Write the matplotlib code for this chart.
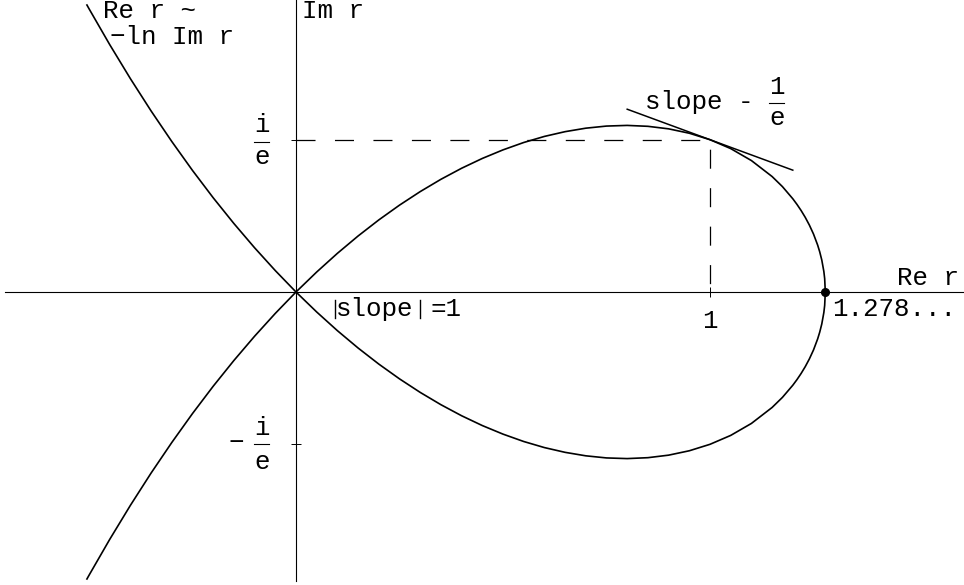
import matplotlib
matplotlib.use("Agg")
import matplotlib.pyplot as plt
from matplotlib.lines import Line2D

plt.rcParams['font.family'] = ['Liberation Mono', 'DejaVu Sans Mono']
plt.rcParams['lines.scale_dashes'] = False

# upper half of the curve (lower half is its mirror image)
curve_x = [-0.505, -0.5, -0.45, -0.4, -0.35, -0.3, -0.25, -0.2, -0.15, -0.1, -0.05,
           0.0, 0.05, 0.1, 0.15, 0.2, 0.25, 0.3, 0.35, 0.4, 0.45, 0.5, 0.55, 0.6,
           0.65, 0.7, 0.75, 0.8, 0.85, 0.9, 0.95, 1.0, 1.05, 1.1, 1.15, 1.175, 1.2,
           1.21, 1.22, 1.23, 1.24, 1.25, 1.26, 1.265, 1.27, 1.275, 1.277, 1.2785]
curve_y = [0.6932, 0.6843, 0.5976, 0.5153, 0.4373, 0.3635, 0.2936, 0.2276, 0.1654,
           0.1068, 0.0517, 0.0, 0.0483, 0.0934, 0.1353, 0.1741, 0.2098, 0.2425,
           0.2722, 0.2989, 0.3226, 0.3433, 0.3611, 0.3758, 0.3873, 0.3957, 0.4008,
           0.4024, 0.4002, 0.3941, 0.3835, 0.3679, 0.3464, 0.3175, 0.2789, 0.2545,
           0.2252, 0.2117, 0.1969, 0.1804, 0.1617, 0.1400, 0.1134, 0.0971, 0.0773,
           0.0496, 0.0323, 0.0]
curve_y_low = [-v for v in curve_y]

guide_x = [0.0, 1.0, 1.0]
guide_y = [0.3679, 0.3679, 0.0]
tangent_x = [0.8, 1.2]
tangent_y = [0.4415, 0.2943]
root = 1.2785

W, H = 964, 585
fig = plt.figure(figsize=(W / 100, H / 100), dpi=100)
ax = fig.add_axes([0, 0, 1, 1])
ax.set_xlim(-296 / 414, 668 / 414)
ax.set_ylim(-293 / 414, 292 / 414)

ax.plot(curve_x, curve_y, color='black', lw=1.2)
ax.plot(curve_x, curve_y_low, color='black', lw=1.2)
ax.plot(guide_x, guide_y, color='black', lw=0.9, ls=(0, (13.7, 14.0)))
ax.plot(tangent_x, tangent_y, color='black', lw=1.1)
ax.plot([root], [0], 'o', color='black', ms=5.5)

for s in ['top', 'right']:
    ax.spines[s].set_visible(False)
ax.spines['left'].set_position(('data', 0))
ax.spines['bottom'].set_position(('data', 0))
ax.spines['bottom'].set_bounds(-0.703, 1.62)
ax.spines['left'].set_bounds(-0.698, 0.71)
for s in ['left', 'bottom']:
    ax.spines[s].set_linewidth(0.8)
ax.set_xticks([1.0])
ax.set_yticks([0.3679, -0.3679])
ax.set_xticklabels([])
ax.set_yticklabels([])
ax.tick_params(direction='inout', length=7, width=0.7)
ax.patch.set_visible(False)

fs = 18.6


def txt(x, y, s, ha='left', size=fs):
    fig.text(x / W, 1 - y / H, s, ha=ha, va='baseline', fontsize=size)


def bar(x0, x1, y):
    fig.add_artist(Line2D([x0 / W, x1 / W], [1 - y / H, 1 - y / H],
                          color='black', lw=0.8, transform=fig.transFigure))


def vbar(x, y0, y1):
    fig.add_artist(Line2D([x / W, x / W], [1 - y0 / H, 1 - y1 / H],
                          color='black', lw=1.0, transform=fig.transFigure))


txt(103, 18, 'Re r ~')
txt(110, 44, '\u2212ln Im r')
txt(302, 18, 'Im r')
txt(959, 285, 'Re r', ha='right')
txt(832, 316, '1.278...')
txt(710, 328, '1', ha='center')

# |slope| =1
vbar(334.5, 300, 318)
txt(336, 316, 'slope')
vbar(419.5, 300, 318)
txt(431, 316, '=1')

# slope -1/e
txt(645, 109, 'slope -')
txt(777, 94, '1', ha='center')
bar(769, 784, 103)
txt(777, 125, 'e', ha='center')

# i/e
txt(262, 132, 'i', ha='center')
bar(254, 269, 141.5)
txt(262, 164, 'e', ha='center')

# -i/e
txt(236, 450, '\u2212', ha='center')
txt(262, 435, 'i', ha='center')
bar(254, 269, 444)
txt(262, 469, 'e', ha='center')

fig.savefig('out.png', dpi=100)
